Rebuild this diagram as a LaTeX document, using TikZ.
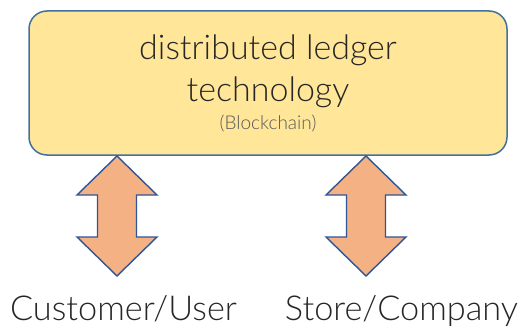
\documentclass[tikz,border=0pt]{standalone}
\usepackage{fontspec}
\setmainfont{Lato}[UprightFont=* Light]
\begin{document}
\begin{tikzpicture}[x=1pt,y=-1pt,
  ledger/.style={draw=boxblue,line width=1.5pt,fill=ledgeryellow,rounded corners=18pt},
  dblarrow/.style={draw=arrowblue,line width=1.4pt,fill=arrowfill,line join=miter},
  party/.style={font=\fontsize{34.3}{38}\selectfont,text=textgray,inner sep=0pt,anchor=base}]
\definecolor{ledgeryellow}{HTML}{FFE699}
\definecolor{boxblue}{HTML}{41719C}
\definecolor{arrowblue}{HTML}{2F5597}
\definecolor{arrowfill}{HTML}{F4B183}
\definecolor{textgray}{HTML}{262626}
\definecolor{subgray}{HTML}{595959}
\useasboundingbox (0,0) rectangle (529,331);
% ledger box
\draw[ledger] (29,11) rectangle (507,155);
\node[inner sep=0pt,anchor=base,text=textgray,font=\fontsize{34}{38}\selectfont] (l1) at (268,60) {distributed ledger};
\node[inner sep=0pt,anchor=base,text=textgray,font=\fontsize{34}{38}\selectfont] (l2) at (268,102) {technology};
\node[inner sep=0pt,anchor=base,text=subgray,font=\fontsize{19}{22}\selectfont] (l3) at (268,130) {(Blockchain)};
% two-way arrows between the ledger and each party
\foreach \cx/\nm in {117/user,366/store}{
  \draw[dblarrow] (\cx,156) -- (\cx+40,195) -- (\cx+19.5,195) -- (\cx+19.5,237) -- (\cx+40,237)
    -- (\cx,276) -- (\cx-40,237) -- (\cx-19.5,237) -- (\cx-19.5,195) -- (\cx-40,195) -- cycle;
}
\node[party] (user) at (123.5,320) {Customer/User};
\node[party] (store) at (401.5,320) {Store/Company};
\end{tikzpicture}
\end{document}
